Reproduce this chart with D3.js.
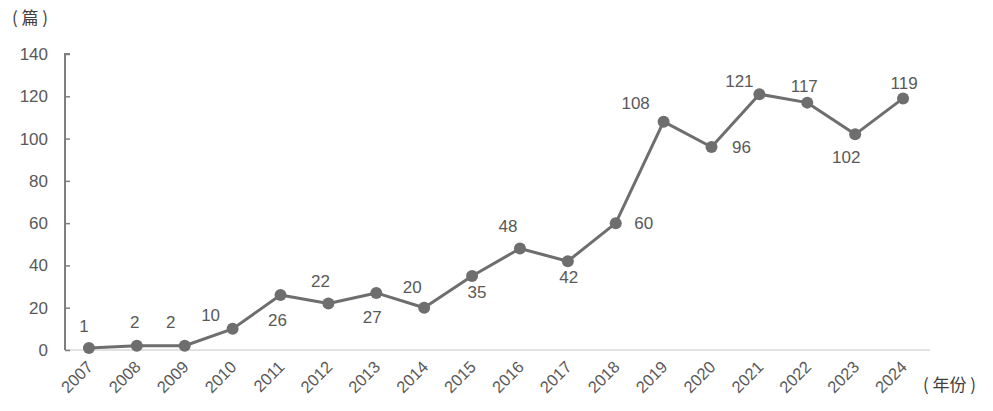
<!DOCTYPE html>
<html><head><meta charset="utf-8">
<script src="https://cdn.jsdelivr.net/npm/d3@7"></script>
<style>
html,body{margin:0;padding:0;background:#fff;}
svg{display:block;}
text{font-family:"Liberation Sans",Arial,sans-serif;}
</style></head>
<body>
<svg id="chart" width="993" height="411"></svg>
<script>
const years = ["2007","2008","2009","2010","2011","2012","2013","2014","2015","2016","2017","2018","2019","2020","2021","2022","2023","2024"];
const counts = [1,2,2,10,26,22,27,20,35,48,42,60,108,96,121,117,102,119];
const yTicks = [0,20,40,60,80,100,120,140];
// label placement: offset of each data label relative to its point
const labelDx = [-5,-2,-14,-22,-3,-8,-4,-12,5,-12,1,28,-28,30,-20,-3,-9,1];
const labelDy = [-22,-24,-24,-14,25,-22,24,-21,16,-22,16,0,-19,0,-13,-17,23,-15];

const svg = d3.select("#chart");
const x = d3.scaleBand().domain(years).range([65, 927]);
const y = d3.scaleLinear().domain([0, 140]).range([350, 54]);
const cx = d => x(d) + x.bandwidth() / 2;

// x axis line
svg.append("line").attr("x1", 65).attr("x2", 930).attr("y1", y(0)).attr("y2", y(0))
  .attr("stroke", "#d9d9d9").attr("stroke-width", 1.5);

// y axis
const yAxis = d3.axisLeft(y).tickValues(yTicks).tickSize(-5).tickPadding(17);
const ga = svg.append("g").attr("transform", "translate(65,0)").call(yAxis);
ga.select(".domain").attr("stroke", "#7f7f7f").attr("stroke-width", 2).attr("d", `M-0,${y(0)}V${y(140)}H5`);
ga.selectAll(".tick line").attr("stroke", "#7f7f7f").attr("stroke-width", 1.5);
ga.selectAll(".tick text").attr("fill", "#595959").style("font-size", "17px")
  .style("font-family", "Liberation Sans, Arial, sans-serif");

// x tick labels
svg.append("g").selectAll("text").data(years).join("text")
  .attr("transform", d => `translate(${cx(d) + 5},${368}) rotate(-45)`)
  .attr("text-anchor", "end")
  .attr("fill", "#595959").style("font-size", "16.5px")
  .text(d => d);

// line
const line = d3.line().x((d, i) => cx(years[i])).y(d => y(d));
svg.append("path").datum(counts).attr("d", line)
  .attr("fill", "none").attr("stroke", "#6e6e6e").attr("stroke-width", 3).attr("stroke-linejoin", "round");

// markers
svg.append("g").selectAll("circle").data(counts).join("circle")
  .attr("cx", (d, i) => cx(years[i])).attr("cy", d => y(d)).attr("r", 6)
  .attr("fill", "#6e6e6e");

// data labels
svg.append("g").selectAll("text").data(counts).join("text")
  .attr("x", (d, i) => cx(years[i]) + labelDx[i])
  .attr("y", (d, i) => y(d) + labelDy[i])
  .attr("dy", "0.35em").attr("text-anchor", "middle")
  .attr("fill", "#595959").style("font-size", "17px")
  .text(d => d);

// unit labels
svg.append("text").attr("x", 12).attr("y", 24)
  .style("font-family", "'Noto Sans CJK SC', sans-serif").style("font-size", "17px")
  .attr("fill", "#404040").text("( 篇 )");
svg.append("text").attr("x", 923).attr("y", 391)
  .style("font-family", "'Noto Sans CJK SC', sans-serif").style("font-size", "17px")
  .attr("fill", "#404040").text("( 年份 )");
</script>
</body></html>
